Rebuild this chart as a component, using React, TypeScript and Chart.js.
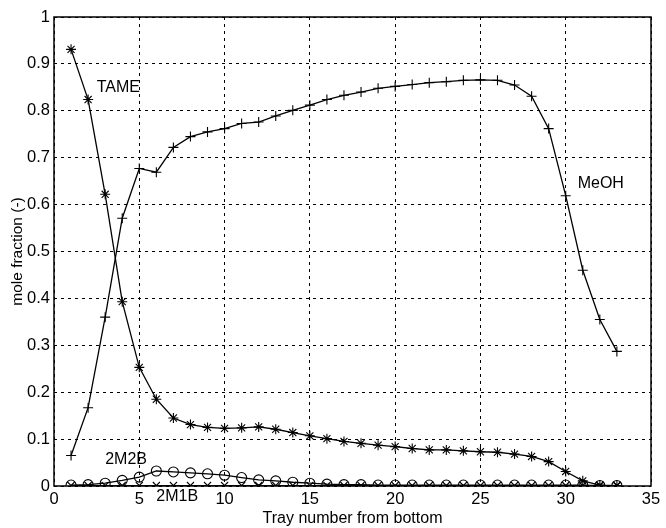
import React, { useEffect, useRef } from "react";
import { Chart, registerables } from "chart.js";

Chart.register(...registerables);

const trays = [1,2,3,4,5,6,7,8,9,10,11,12,13,14,15,16,17,18,19,20,21,22,23,24,25,26,27,28,29,30,31,32,33];
const tame = [0.931,0.824,0.622,0.393,0.253,0.185,0.145,0.131,0.125,0.123,0.124,0.126,0.121,0.114,0.107,0.101,0.095,0.091,0.087,0.084,0.080,0.077,0.077,0.075,0.073,0.072,0.068,0.063,0.052,0.031,0.011,0.002,0.001];
const meoh = [0.065,0.167,0.36,0.571,0.677,0.669,0.722,0.745,0.755,0.762,0.773,0.776,0.789,0.801,0.812,0.824,0.833,0.840,0.848,0.852,0.856,0.860,0.862,0.865,0.866,0.865,0.855,0.831,0.762,0.619,0.46,0.355,0.287];
const m2b = [0.002,0.003,0.006,0.012,0.019,0.032,0.030,0.028,0.026,0.023,0.018,0.013,0.011,0.008,0.006,0.004,0.003,0.003,0.002,0.002,0.002,0.002,0.002,0.002,0.002,0.002,0.002,0.002,0.002,0.002,0.002,0.001,0.001];
const m1b = [0.001,0.001,0.001,0.001,0.001,0.001,0.001,0.001,0.001,0.001,0.001,0.001,0.001,0.001,0.001,0.001,0.001,0.001,0.001,0.001,0.001,0.001,0.001,0.001,0.001,0.001,0.001,0.001,0.001,0.001,0.001,0.001,0.001];

const labels = [
  { text: "TAME", x: 2.5, y: 0.85 },
  { text: "MeOH", x: 30.7, y: 0.645 },
  { text: "2M2B", x: 3.0, y: 0.056 },
  { text: "2M1B", x: 6.0, y: -0.022 },
];

const FONT = "'Liberation Sans', Arial, Helvetica, sans-serif";

const framePlugin = {
  id: "frame",
  afterDatasetsDraw(chart: any) {
    const { ctx, chartArea: a, scales } = chart;
    ctx.save();
    ctx.strokeStyle = "#000";
    ctx.lineWidth = 1.5;
    ctx.strokeRect(a.left, a.top, a.right - a.left, a.bottom - a.top);
    ctx.fillStyle = "#000";
    ctx.font = `16px ${FONT}`;
    ctx.textAlign = "left";
    ctx.textBaseline = "middle";
    for (const l of labels) {
      ctx.fillText(l.text, scales.x.getPixelForValue(l.x), scales.y.getPixelForValue(l.y));
    }
    ctx.restore();
  },
};

function mk(label: string, data: number[], style: string) {
  return {
    label,
    data: trays.map((t, i) => ({ x: t, y: data[i] })),
    borderColor: "#000",
    backgroundColor: "rgba(0,0,0,0)",
    borderWidth: 1.3,
    pointStyle: style,
    pointRadius: 5,
    pointBorderColor: "#000",
    pointBorderWidth: 1.1,
    tension: 0,
  };
}

export default function App() {
  const ref = useRef<HTMLCanvasElement>(null);
  useEffect(() => {
    document.body.style.margin = "0";
    const chart = new Chart(ref.current!, {
      type: "line",
      data: {
        datasets: [
          mk("TAME", tame, "star"),
          mk("MeOH", meoh, "cross"),
          mk("2M2B", m2b, "circle"),
          mk("2M1B", m1b, "crossRot"),
        ],
      },
      options: {
        animation: false,
        responsive: false,
        layout: { padding: { top: 17, right: 15, left: 0, bottom: 0 } },
        plugins: { legend: { display: false }, tooltip: { enabled: false } },
        scales: {
          x: {
            type: "linear",
            min: 0,
            max: 35,
            ticks: { stepSize: 5, color: "#000", font: { family: FONT, size: 16.5 }, padding: 4, maxRotation: 0 },
            grid: { color: "#000", lineWidth: 1, drawTicks: false, tickLength: 0 },
            border: { display: false, dash: [3, 4] },
            title: { display: true, text: "Tray number from bottom", color: "#000", font: { family: FONT, size: 16 }, padding: { top: 0, bottom: 0 } },
            afterFit(s: any) { s.height = 42; },
          },
          y: {
            min: 0,
            max: 1,
            ticks: {
              stepSize: 0.1,
              color: "#000",
              font: { family: FONT, size: 16.5 },
              padding: 4,
              callback: (v: any) => String(Math.round(Number(v) * 10) / 10),
            },
            grid: { color: "#000", lineWidth: 1, drawTicks: false, tickLength: 0 },
            border: { display: false, dash: [3, 4] },
            title: { display: true, text: "mole fraction (-)", color: "#000", font: { family: FONT, size: 15.5 }, padding: { top: 8, bottom: 0 } },
            afterFit(s: any) { s.width = 54; },
          },
        },
      } as any,
      plugins: [framePlugin],
    });
    return () => chart.destroy();
  }, []);
  return <canvas ref={ref} width={666} height={528} style={{ display: "block" }} />;
}
